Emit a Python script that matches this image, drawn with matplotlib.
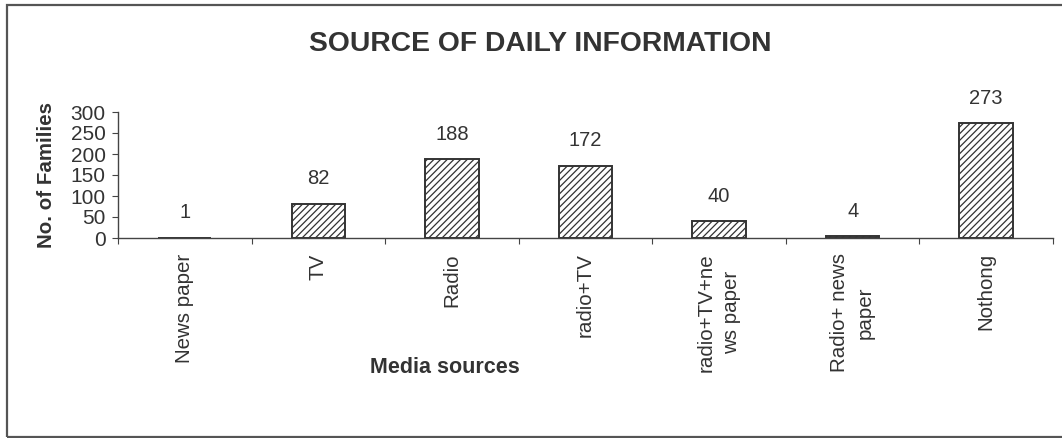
import matplotlib
matplotlib.use("Agg")
import matplotlib.pyplot as plt
from matplotlib.patches import Rectangle

categories = ["News paper", "TV", "Radio", "radio+TV", "radio+TV+ne\nws paper", "Radio+ news\npaper", "Nothong"]
values = [1, 82, 188, 172, 40, 4, 273]
yticks = [0, 50, 100, 150, 200, 250, 300]

plt.rcParams['font.family'] = ['Liberation Sans', 'DejaVu Sans']
plt.rcParams['hatch.linewidth'] = 0.9
TXT = '#333333'

fig = plt.figure(figsize=(10.62, 4.38), dpi=100)
fig.patches.append(Rectangle((7/1062, 1-437/438), 1.2, (437-5)/438, transform=fig.transFigure,
                             fill=False, edgecolor='#555555', linewidth=1.6, zorder=0))
ax = fig.add_axes([118/1062, 1-238/438, (1053-118)/1062, (238-112)/438])

x = list(range(len(categories)))
bars = ax.bar(x, values, width=0.4, color='white', edgecolor='#333333', hatch='/////', linewidth=1.4)
for xi, v in zip(x, values):
    ax.annotate(str(v), (xi, v), xytext=(0, 11), textcoords='offset points',
                ha='center', va='bottom', fontsize=14.5, color=TXT)

ax.set_xlim(-0.5, len(categories) - 0.5)
ax.set_ylim(0, 300)
ax.set_yticks(yticks)
ax.set_yticklabels([str(t) for t in yticks], fontsize=15, color=TXT)
ax.set_xticks([i + 0.5 for i in range(-1, len(categories))])
ax.set_xticklabels([])
ax.set_xticks(x, minor=True)
ax.set_xticklabels(categories, minor=True, rotation=90, ha='center', va='top',
                   multialignment='center', fontsize=14.8, color=TXT, linespacing=1.45)
ax.tick_params(axis='x', which='minor', length=0, pad=11)
ax.tick_params(axis='x', which='major', length=4, color='#444444', direction='out')
ax.tick_params(axis='y', length=4, color='#444444', pad=5)

for s in ['top', 'right']:
    ax.spines[s].set_visible(False)
for s in ['left', 'bottom']:
    ax.spines[s].set_color('#444444')
    ax.spines[s].set_linewidth(1.0)

ax.set_ylabel("No. of Families", fontsize=14.8, fontweight='bold', color=TXT, labelpad=10)
ax.set_xlabel("Media sources", fontsize=15.5, fontweight='bold', color=TXT)
ax.xaxis.set_label_coords((444.5-118)/935, -0.945)

fig.text(540.5/1062, 1-51/438, "SOURCE OF DAILY INFORMATION", ha='center', va='baseline',
         fontsize=20.3, fontweight='bold', color=TXT)

fig.savefig("out.png", dpi=100)
